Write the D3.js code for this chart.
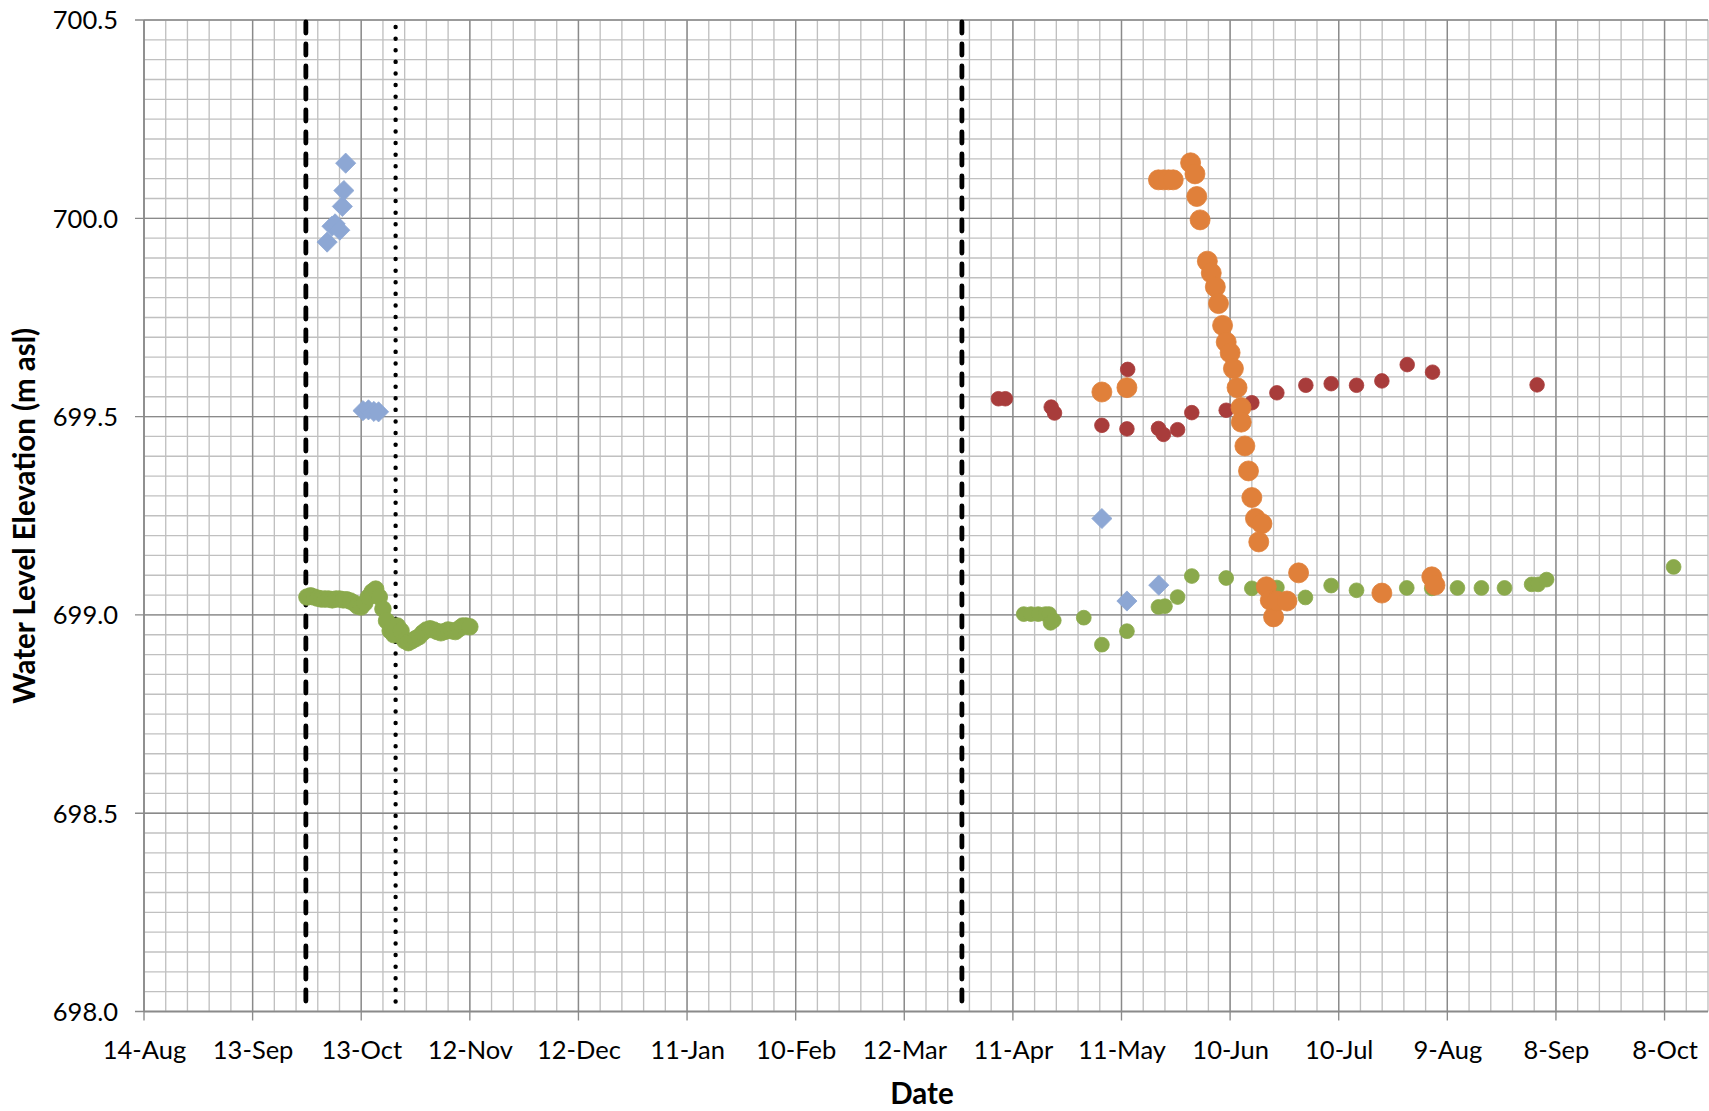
<!DOCTYPE html>
<html><head><meta charset="utf-8">
<script src="https://cdn.jsdelivr.net/npm/d3@7"></script>
<style>
body{margin:0;background:#fff}
svg{display:block}
text{font-family:Lato,"Open Sans",sans-serif;fill:#000}
</style>
</head><body>
<svg id="chart" width="1709" height="1111"></svg>
<script>
// ---------- axes ----------
const xDomain = ["2012-08-14", "2013-10-20"];
const yDomain = [698.0, 700.5];
const xTickDates = ["2012-08-14","2012-09-13","2012-10-13","2012-11-12","2012-12-12","2013-01-11","2013-02-10","2013-03-12","2013-04-11","2013-05-11","2013-06-10","2013-07-10","2013-08-09","2013-09-08","2013-10-08"];
const xTickLabels = ["14-Aug","13-Sep","13-Oct","12-Nov","12-Dec","11-Jan","10-Feb","12-Mar","11-Apr","11-May","10-Jun","10-Jul","9-Aug","8-Sep","8-Oct"];
const yTicks = [698.0, 698.5, 699.0, 699.5, 700.0, 700.5];
const yTickLabels = ["698.0","698.5","699.0","699.5","700.0","700.5"];
const xTitle = "Date";
const yTitle = "Water Level Elevation (m asl)";

// ---------- vertical reference lines ----------
const refLineDates = ["2012-09-27T17:00", "2012-10-22T12:00", "2013-03-27T22:00"];
const refLineStyles = ["dashed", "dotted", "dashed"];

// ---------- series ----------
const greenDense = [
 ["2012-09-28",699.045],["2012-09-29",699.048],["2012-09-30",699.045],["2012-10-01",699.042],
 ["2012-10-02",699.040],["2012-10-03",699.040],["2012-10-04",699.040],["2012-10-05",699.038],
 ["2012-10-06",699.040],["2012-10-07",699.040],["2012-10-08",699.038],["2012-10-09",699.038],
 ["2012-10-10",699.035],["2012-10-11",699.030],["2012-10-12",699.022],["2012-10-13",699.020],
 ["2012-10-14",699.030],["2012-10-15",699.045],["2012-10-16",699.058],["2012-10-17",699.065],
 ["2012-10-18",699.045],["2012-10-19",699.015],["2012-10-20",698.985],["2012-10-21",698.960],
 ["2012-10-22",698.950],["2012-10-23",698.972],["2012-10-24",698.960],["2012-10-25",698.935],
 ["2012-10-26",698.930],["2012-10-27",698.935],["2012-10-28",698.940],["2012-10-29",698.945],
 ["2012-10-30",698.955],["2012-10-31",698.962],["2012-11-01",698.965],["2012-11-02",698.962],
 ["2012-11-03",698.958],["2012-11-04",698.955],["2012-11-05",698.958],["2012-11-06",698.962],
 ["2012-11-07",698.960],["2012-11-08",698.958],["2012-11-09",698.965],["2012-11-10",698.972],
 ["2012-11-11",698.972],["2012-11-12",698.970]
];
const greenSparse = [
 ["2013-04-14",699.002],["2013-04-16",699.002],["2013-04-18",699.002],["2013-04-20",699.002],
 ["2013-04-21",699.002],["2013-04-21T10:00",698.980],["2013-04-22T07:00",698.986],
 ["2013-04-30T14:00",698.993],["2013-05-05T14:00",698.925],["2013-05-12T12:00",698.959],
 ["2013-05-21T05:00",699.020],["2013-05-23",699.022],["2013-05-26T12:00",699.045],
 ["2013-05-30T10:00",699.098],["2013-06-08T22:00",699.093],["2013-06-16",699.067],
 ["2013-06-22T22:00",699.069],["2013-06-30T19:00",699.044],["2013-07-07T22:00",699.074],
 ["2013-07-14T22:00",699.062],["2013-07-28T19:00",699.068],["2013-08-04T17:00",699.067],
 ["2013-08-11T19:00",699.068],["2013-08-18T10:00",699.068],["2013-08-24T19:00",699.068],
 ["2013-09-01T07:00",699.077],["2013-09-03T02:00",699.077],["2013-09-05T10:00",699.089],
 ["2013-10-10T12:00",699.121]
];
const redSeries = [
 ["2013-04-07",699.545],["2013-04-08T22:00",699.545],["2013-04-21T14:00",699.524],
 ["2013-04-22T12:00",699.509],["2013-05-05T14:00",699.478],["2013-05-12T12:00",699.469],
 ["2013-05-12T17:00",699.619],["2013-05-21T05:00",699.470],["2013-05-22T14:00",699.455],
 ["2013-05-26T12:00",699.467],["2013-05-30T10:00",699.510],["2013-06-08T22:00",699.516],
 ["2013-06-16",699.535],["2013-06-22T22:00",699.560],["2013-06-30T22:00",699.579],
 ["2013-07-07T22:00",699.583],["2013-07-14T22:00",699.579],["2013-07-21T22:00",699.590],
 ["2013-07-28T22:00",699.631],["2013-08-04T22:00",699.612],["2013-09-02T19:00",699.580]
];
const blueSeries = [
 ["2012-10-03T14:00",699.940],["2012-10-04T22:00",699.980],["2012-10-05T19:00",699.986],
 ["2012-10-07T02:00",699.970],["2012-10-07T19:00",700.030],["2012-10-08T05:00",700.070],
 ["2012-10-08T17:00",700.139],
 ["2012-10-13T12:00",699.515],["2012-10-15",699.517],["2012-10-16T12:00",699.513],
 ["2012-10-17T19:00",699.512],
 ["2013-05-05T14:00",699.243],["2013-05-12T12:00",699.035],["2013-05-21T07:00",699.075]
];
const orangeSeries = [
 ["2013-05-05T14:00",699.562],["2013-05-12T12:00",699.573],
 ["2013-05-21T05:00",700.097],["2013-05-22T14:00",700.097],["2013-05-24",700.097],["2013-05-25T07:00",700.097],
 ["2013-05-30T02:00",700.140],["2013-05-31T07:00",700.112],["2013-05-31T19:00",700.055],
 ["2013-06-01T17:00",699.996],["2013-06-03T17:00",699.892],["2013-06-04T19:00",699.862],
 ["2013-06-05T22:00",699.827],["2013-06-06T19:00",699.785],["2013-06-07T22:00",699.730],
 ["2013-06-08T22:00",699.688],["2013-06-10",699.661],["2013-06-10T22:00",699.621],
 ["2013-06-11T22:00",699.573],["2013-06-13",699.523],["2013-06-13T02:00",699.486],
 ["2013-06-14T02:00",699.426],["2013-06-15T02:00",699.363],["2013-06-16",699.296],
 ["2013-06-17",699.243],["2013-06-18T19:00",699.230],["2013-06-17T22:00",699.184],
 ["2013-06-20",699.071],["2013-06-21T02:00",699.037],["2013-06-22",698.995],
 ["2013-06-22T22:00",699.035],["2013-06-25T17:00",699.035],["2013-06-28T22:00",699.106],
 ["2013-07-21T22:00",699.055],["2013-08-04T17:00",699.096],["2013-08-05T14:00",699.075]
];

// ---------- drawing ----------
const parse = s => new Date(s.length === 10 ? s + "T00:00Z" : s + "Z");
const W = 1709, H = 1111;
const M = {left: 144, right: 1, top: 20, bottom: 99.5};
const svg = d3.select("#chart");
const x = d3.scaleUtc().domain(xDomain.map(parse)).range([M.left, W - M.right]);
const y = d3.scaleLinear().domain(yDomain).range([H - M.bottom, M.top]);
const x0 = x.range()[0], x1 = x.range()[1], yB = y.range()[0], yT = y.range()[1];

const g = svg.append("g");
// minor gridlines
const DAY = 86400000;
const start = parse(xDomain[0]).getTime(), end = parse(xDomain[1]).getTime();
const minorX = d3.range(start, end + 1, 6 * DAY).map(t => new Date(t));
const minorY = d3.range(0, 51).map(i => yDomain[0] + i * 0.05);
g.append("g").selectAll("line").data(minorY).join("line")
  .attr("x1", x0).attr("x2", x1).attr("y1", d => y(d)).attr("y2", d => y(d))
  .attr("stroke", "#c0c0c0").attr("stroke-width", 1.35);
g.append("g").selectAll("line").data(minorX).join("line")
  .attr("x1", d => x(d)).attr("x2", d => x(d)).attr("y1", yT).attr("y2", yB)
  .attr("stroke", "#c0c0c0").attr("stroke-width", 1.35);
// major gridlines
g.append("g").selectAll("line").data(yTicks).join("line")
  .attr("x1", x0 - 9).attr("x2", x1).attr("y1", d => y(d)).attr("y2", d => y(d))
  .attr("stroke", "#8a8a8a").attr("stroke-width", 1.35);
g.append("g").selectAll("line").data(xTickDates.map(parse)).join("line")
  .attr("x1", d => x(d)).attr("x2", d => x(d)).attr("y1", yT).attr("y2", yB + 9)
  .attr("stroke", "#8a8a8a").attr("stroke-width", 1.35);
// axis lines
g.append("line").attr("x1", x0).attr("x2", x0).attr("y1", yT).attr("y2", yB)
  .attr("stroke", "#8a8a8a").attr("stroke-width", 1.5);
g.append("line").attr("x1", x0).attr("x2", x1).attr("y1", yB).attr("y2", yB)
  .attr("stroke", "#8a8a8a").attr("stroke-width", 1.5);

// tick labels via d3 axes (labels only)
const xAxis = d3.axisBottom(x).tickValues(xTickDates.map(parse))
  .tickFormat((d, i) => xTickLabels[i]).tickSize(0).tickPadding(0);
const xa = svg.append("g").attr("transform", `translate(0,${yB + 39})`).call(xAxis);
xa.select(".domain").remove();
xa.selectAll("text").attr("font-size", 25.5).attr("dy", "0.35em").style("font-family", "Lato");

const yAxis = d3.axisLeft(y).tickValues(yTicks)
  .tickFormat((d, i) => yTickLabels[i]).tickSize(0).tickPadding(0);
const ya = svg.append("g").attr("transform", `translate(${x0 - 26},0)`).call(yAxis);
ya.select(".domain").remove();
ya.selectAll("text").attr("font-size", 25.5).attr("dy", "0.35em").style("font-family", "Lato");

// titles
svg.append("text").attr("x", (x0 + x1) / 2 - 4).attr("y", 1094).attr("dy", "0.35em")
  .attr("text-anchor", "middle").attr("font-size", 29.5).attr("font-weight", "bold").text(xTitle);
svg.append("text").attr("transform", `translate(25,${(yT + yB) / 2}) rotate(-90)`).attr("dy", "0.35em")
  .attr("text-anchor", "middle").attr("font-size", 29.5).attr("font-weight", "bold").text(yTitle);

// reference lines
const refs = svg.append("g");
refLineDates.forEach((ds, i) => {
  const xv = x(parse(ds));
  const l = refs.append("line").attr("x1", xv).attr("x2", xv)
    .attr("stroke", "#000").attr("stroke-linecap", "round");
  if (refLineStyles[i] === "dashed") {
    l.attr("y1", yT + 2).attr("y2", yB - 2).attr("stroke-width", 4.8).attr("stroke-dasharray", "11,11");
  } else {
    l.attr("y1", yT + 7).attr("y2", yB - 4).attr("stroke-width", 4.4).attr("stroke-dasharray", "0.1,11.5");
  }
});

// markers
function circles(data, color, r) {
  svg.append("g").selectAll("circle").data(data).join("circle")
    .attr("cx", d => x(parse(d[0]))).attr("cy", d => y(d[1])).attr("r", r)
    .attr("fill", color).attr("stroke", color).attr("stroke-width", 0.8);
}
circles(greenDense, "#8aa94b", 8.3);
circles(greenSparse, "#8aa94b", 7.4);
circles(redSeries, "#a83c3b", 7.3);
const diamond = d3.symbol().type(d3.symbolDiamond2).size(260);
svg.append("g").selectAll("path").data(blueSeries).join("path")
  .attr("d", diamond)
  .attr("transform", d => `translate(${x(parse(d[0]))},${y(d[1])})`)
  .attr("fill", "#8da7d4").attr("stroke", "#8da7d4").attr("stroke-width", 0.8);
circles(orangeSeries, "#e0803a", 10);
</script>
</body></html>
